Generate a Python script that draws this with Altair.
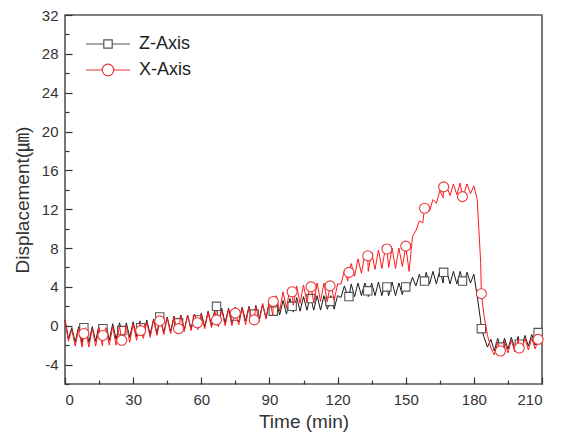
import altair as alt
import pandas as pd

# ---- data ----
TIME = [i * 1.5 for i in range(141)]

Z_LINE = [
    0.6, -1.3, -0.2, -1.7, -0.1, -1.8, 0.0, -1.7, -0.1, -1.6,
    0.1, -1.6, 0.1, -1.5, 0.2, -1.4, 0.3, -1.3, 0.3, -1.2,
    0.4, -1.1, 0.5, -1.0, 0.6, -0.9, 0.7, -0.8, 0.8, -0.7,
    0.9, -0.6, 1.0, -0.5, 1.1, -0.4, 1.1, -0.3, 1.2, -0.2,
    1.3, -0.1, 1.5, 0.0, 1.7, 0.2, 1.8, 0.3, 1.8, 0.3,
    1.9, 0.4, 1.9, 0.5, 2.0, 0.6, 2.1, 0.7, 2.2, 0.8,
    2.4, 1.0, 2.5, 1.1, 2.6, 1.2, 2.8, 1.4, 2.9, 1.5,
    3.0, 1.6, 3.0, 1.6, 3.1, 1.6, 3.1, 1.7, 3.1, 1.7,
    3.1, 2.9, 4.1, 3.0, 4.3, 3.0, 4.4, 3.1, 4.4, 3.0,
    4.4, 3.1, 4.5, 3.1, 4.4, 3.1, 4.5, 3.1, 4.4, 3.2,
    4.5, 3.9, 5.0, 4.1, 5.3, 4.2, 5.5, 4.3, 5.6, 4.3,
    5.7, 4.4, 5.7, 4.3, 5.6, 4.3, 5.6, 4.3, 5.5, 4.4,
    5.3, 3.0, 0.5, -1.2, -2.2, -1.4, -2.6, -1.3, -2.5, -1.3,
    -2.4, -1.2, -2.3, -1.1, -2.2, -1.0, -2.1, -0.9, -2.0, -0.8,
    -1.0,
]

X_LINE = [
    0.6, -1.6, -0.4, -2.1, -0.3, -2.2, -0.2, -2.2, -0.3, -2.1,
    -0.2, -2.1, -0.2, -2.0, -0.1, -2.0, 0.0, -1.9, 0.1, -1.7,
    0.2, -1.5, 0.3, -1.3, 0.4, -1.2, 0.6, -1.0, 0.7, -0.9,
    0.8, -0.8, 0.9, -0.7, 1.0, -0.6, 1.1, -0.5, 1.2, -0.4,
    1.2, -0.3, 1.4, -0.2, 1.5, -0.1, 1.6, 0.0, 1.7, 0.0,
    1.7, 0.1, 1.8, 0.1, 1.9, 0.2, 2.0, 0.4, 2.3, 0.7,
    2.7, 1.1, 3.1, 1.5, 3.5, 1.8, 3.8, 2.1, 4.1, 2.3,
    4.2, 2.4, 4.3, 2.4, 4.4, 2.5, 4.4, 2.5, 4.4, 2.6,
    4.3, 4.3, 5.7, 4.6, 6.4, 5.1, 6.9, 5.4, 7.3, 5.6,
    7.6, 5.8, 7.8, 5.9, 7.9, 6.0, 8.0, 5.9, 8.0, 6.1,
    8.1, 5.6, 9.2, 9.8, 10.8, 10.6, 12.0, 11.8, 13.0, 12.6,
    13.9, 13.2, 14.4, 13.4, 14.6, 13.5, 14.7, 13.5, 14.6, 13.6,
    14.4, 13.0, 6.5, 1.0, -1.0, -2.3, -3.0, -1.7, -2.9, -1.6,
    -2.8, -1.5, -2.7, -1.4, -2.6, -1.3, -2.5, -1.3, -2.4, -1.2,
    -2.0,
]

MARK_TIME = [8.3, 16.7, 25.0, 33.3, 41.7, 50.0, 58.3, 66.7, 75.0, 83.3,
             91.7, 100.0, 108.3, 116.7, 125.0, 133.3, 141.7, 150.0, 158.3,
             166.7, 175.0, 183.3, 191.7, 200.0, 208.3]

Z_MARK = [-0.2, -0.3, -0.5, -0.2, 0.9, 0.3, 0.6, 2.0, 1.0, 1.2,
          1.5, 2.0, 2.8, 2.5, 3.0, 3.6, 4.0, 4.0, 4.6,
          5.5, 4.6, -0.3, -2.2, -1.9, -0.7]

X_MARK = [-0.8, -1.0, -1.5, -0.5, 0.5, -0.3, 0.3, 0.6, 1.3, 0.6,
          2.5, 3.5, 4.0, 4.1, 5.5, 7.2, 7.9, 8.2, 12.1,
          14.3, 13.3, 3.3, -2.6, -2.3, -1.4]

SERIES = ["Z-Axis", "X-Axis"]

# ---- tables ----
def series_table(name, line_vals, mark_vals):
    a = pd.DataFrame({"t": TIME, "v": line_vals})
    b = pd.DataFrame({"t": MARK_TIME, "v": mark_vals})
    line = pd.concat([a, b]).sort_values("t").reset_index(drop=True)
    line["series"] = name
    b["series"] = name
    return line, b

z_line, z_mark = series_table(SERIES[0], Z_LINE, Z_MARK)
x_line, x_mark = series_table(SERIES[1], X_LINE, X_MARK)

W, H = 477, 369
FONT = "Liberation Sans, Arial, Noto Sans CJK KR, sans-serif"

xs = alt.Scale(domain=[0, 210], nice=False, zero=False)
ys = alt.Scale(domain=[-6, 32], nice=False, zero=False)

x_axis = alt.Axis(
    values=list(range(0, 211, 15)),
    labelExpr="datum.value % 30 === 0 ? '' + datum.value : ''",
    title="Time (min)",
    grid=True,
    gridDash={"condition": {"test": "datum.value % 30 === 0", "value": [7, 5000]},
              "value": [4, 5000]},
    gridDashOffset={"condition": {"test": "datum.value % 30 === 0", "value": 5007 - (H - 7)},
                    "value": 5004 - (H - 4)},
    labelPadding=8, titlePadding=5,
)
y_axis = alt.Axis(
    values=list(range(-6, 33, 2)),
    labelExpr="datum.value % 4 === 0 ? '' + datum.value : ''",
    title="Displacement(㎛)",
    grid=True,
    gridDash={"condition": {"test": "datum.value % 4 === 0", "value": [7, 5000]},
              "value": [4, 5000]},
    labelPadding=7, titlePadding=9,
)

X = alt.X("t:Q", scale=xs, axis=x_axis)
Y = alt.Y("v:Q", scale=ys, axis=y_axis)

PATH_SQ = "M-2.2,0L-0.42,0M0.42,0L2.2,0M-0.42,-0.42L0.42,-0.42L0.42,0.42L-0.42,0.42Z"
PATH_CI = "M-2.2,0L-0.58,0M0.58,0L2.2,0M-0.58,0A0.58,0.58,0,1,1,0.58,0A0.58,0.58,0,1,1,-0.58,0Z"

def legend(path, ly):
    return alt.Legend(orient="none", legendX=32, legendY=ly, title=None,
                      symbolType=path, symbolSize=400, symbolStrokeWidth=1.2,
                      symbolFillColor="white", labelFontSize=18, labelFont=FONT,
                      labelColor="#222222", labelOffset=20, padding=0)

z_l = alt.Chart(z_line).mark_line(color="#1a1a1a", strokeWidth=1).encode(x=X, y=Y, order="t:Q")
x_l = alt.Chart(x_line).mark_line(color="#ff1a1a", strokeWidth=1).encode(x=X, y=Y, order="t:Q")

z_p = alt.Chart(z_mark).mark_point(shape="square", filled=False, fill="white", size=70,
                                   strokeWidth=1.1, opacity=1).encode(
    x=X, y=Y,
    color=alt.Color("series:N", scale=alt.Scale(domain=[SERIES[0]], range=["#555555"]),
                    legend=legend(PATH_SQ, 18)))
x_p = alt.Chart(x_mark).mark_point(shape="circle", filled=False, fill="white", size=100,
                                   strokeWidth=1.1, opacity=1).encode(
    x=X, y=Y,
    color=alt.Color("series:N", scale=alt.Scale(domain=[SERIES[1]], range=["#e8383d"]),
                    legend=legend(PATH_CI, 44)))

chart = alt.layer(z_l, z_p, x_l, x_p).resolve_scale(color="independent").properties(
    width=W, height=H,
    autosize=alt.AutoSizeParams(type="none"),
    padding={"left": 65, "top": 15, "right": 23, "bottom": 52},
    background="white",
).configure_view(stroke="#555555", strokeWidth=1.6).configure_axis(
    domain=False, ticks=False, gridColor="#333333", gridWidth=1.2, gridOpacity=1,
    labelFont=FONT, labelFontSize=15, labelColor="#333333",
    titleFont=FONT, titleFontSize=19, titleColor="#333333", titleFontWeight="normal",
)

chart.save("out.html", embed_options={"renderer": "svg", "actions": False})
